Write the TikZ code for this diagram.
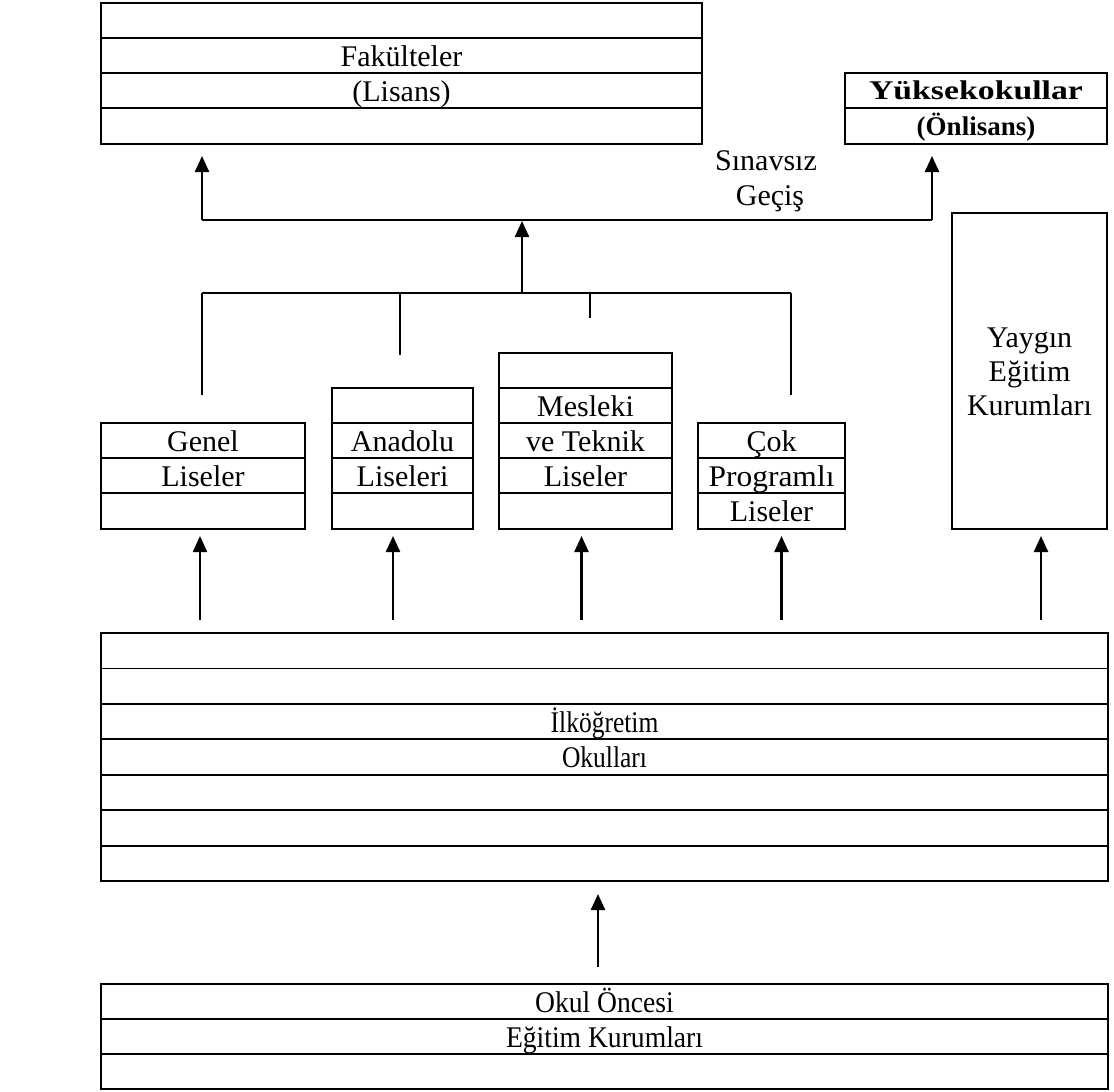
\documentclass[tikz,border=0pt]{standalone}
\usepackage{fontspec}
\usepackage{graphicx}
\setmainfont{Liberation Serif}
\usetikzlibrary{arrows.meta,calc}
\begin{document}
\begin{tikzpicture}[x=1pt,y=-1pt,
  box/.style={draw, line width=2pt, rectangle, inner sep=0pt, outer sep=0pt},
  sep/.style={line width=1.8pt},
  txt/.style={font=\fontsize{30}{34}\selectfont, inner sep=0pt, anchor=base},
  ytxt/.style={font=\fontsize{27}{30}\selectfont\bfseries, inner sep=0pt, anchor=base},
  conn/.style={line width=2.4pt},
  arr/.style={line width=2.4pt, -{Triangle[length=16pt,width=14pt]}}]
\useasboundingbox (0,0) rectangle (1114,1092);

% boxes
\node[box, minimum width=601pt, minimum height=141pt] (fak) at (401.5,73.5) {};
\node[box, minimum width=262pt, minimum height=71pt] (yuk) at (976,108.5) {};
\node[box, minimum width=204pt, minimum height=106pt] (genel) at (203,476) {};
\node[box, minimum width=141pt, minimum height=141pt] (anadolu) at (402.5,458.5) {};
\node[box, minimum width=173pt, minimum height=176pt] (mesleki) at (585.5,441) {};
\node[box, minimum width=147pt, minimum height=106pt] (cok) at (771.5,476) {};
\node[box, minimum width=155pt, minimum height=316pt] (yaygin) at (1029.5,371) {};
\node[box, minimum width=1007pt, minimum height=248pt] (ilk) at (604.5,757) {};
\node[box, minimum width=1007pt, minimum height=105pt] (okul) at (604.5,1036.5) {};

% row dividers
\foreach \y in {38,73,108} \draw[sep] (101,\y) -- (702,\y);
\draw[sep] (845,108) -- (1107,108);
\foreach \y in {458,493} \draw[sep] (101,\y) -- (305,\y);
\foreach \y in {423,458,493} \draw[sep] (332,\y) -- (473,\y);
\foreach \y in {388,423,458,493} \draw[sep] (499,\y) -- (672,\y);
\foreach \y in {458,493} \draw[sep] (698,\y) -- (845,\y);
\foreach \y in {668.4,703.9,739.3,774.7,810.1,845.6} \draw[sep] (101,\y) -- (1108,\y);
\foreach \y in {1019,1054} \draw[sep] (101,\y) -- (1108,\y);

% texts (baselines)
\node[txt] (tfak1) at (401.5,66) {Fakülteler};
\node[txt] (tfak2) at (401.5,101) {(Lisans)};
\node[ytxt] (tyuk1) at (976,99) {\scalebox{1.25}[1]{Yüksekokullar}};
\node[ytxt] (tyuk2) at (976,135) {(Önlisans)};
\node[txt] (tsin1) at (766,170) {Sınavsız};
\node[txt] (tsin2) at (770,205) {Geçiş};
\node[txt] (tgen1) at (203,451) {Genel};
\node[txt] (tgen2) at (203,486) {Liseler};
\node[txt] (tana1) at (402.5,451) {Anadolu};
\node[txt] (tana2) at (402.5,486) {Liseleri};
\node[txt] (tmes1) at (585.5,416) {Mesleki};
\node[txt] (tmes2) at (585.5,451) {ve Teknik};
\node[txt] (tmes3) at (585.5,486) {Liseler};
\node[txt] (tcok1) at (771.5,451) {Çok};
\node[txt] (tcok2) at (771.5,486) {\scalebox{1.05}[1]{Programlı}};
\node[txt] (tcok3) at (771.5,521) {Liseler};
\node[txt] (tyay1) at (1029.5,347) {Yaygın};
\node[txt] (tyay2) at (1029.5,381) {Eğitim};
\node[txt] (tyay3) at (1029.5,415) {Kurumları};
\node[txt] (tilk1) at (604.5,732) {\scalebox{0.85}[1]{İlköğretim}};
\node[txt] (tilk2) at (604.5,767) {\scalebox{0.85}[1]{Okulları}};
\node[txt] (tokul1) at (604.5,1012) {\scalebox{0.92}[1]{Okul Öncesi}};
\node[txt] (tokul2) at (604.5,1047) {\scalebox{0.92}[1]{Eğitim Kurumları}};

% upper connectors
\coordinate (h1L) at (202,220);
\coordinate (h1M) at (522,220);
\coordinate (h1R) at (932,220);
\coordinate (h2L) at (202,293);
\coordinate (h2M) at (522,293);
\coordinate (h2R) at (791,293);
\draw[conn] (h1L) -- (h1R);
\draw[arr] (h1L) -- ($(fak.south -| h1L)+(0,12)$);
\draw[arr] (h1R) -- ($(yuk.south -| h1R)+(0,12)$);
\draw[conn] (h2L) -- (h2R);
\draw[arr] (h2M) -- ($(h1M)+(0,1)$);
\draw[conn] (h2L) -- ($(genel.north -| h2L)+(0,-28)$);
\draw[conn] ($(anadolu.north)+(-2.5,-95)$) -- ($(anadolu.north)+(-2.5,-33)$);
\draw[conn] ($(mesleki.north)+(4.5,-60)$) -- ($(mesleki.north)+(4.5,-35)$);
\draw[conn] (h2R) -- ($(cok.north -| h2R)+(0,-28)$);

% lower connectors
\draw[arr] ($(genel.south)+(-3,91)$) -- ($(genel.south)+(-3,7)$);
\draw[arr] ($(anadolu.south)+(-9.5,91)$) -- ($(anadolu.south)+(-9.5,7)$);
\draw[arr] ($(mesleki.south)+(-4,91)$) -- ($(mesleki.south)+(-4,7)$);
\draw[arr] ($(cok.south)+(10,91)$) -- ($(cok.south)+(10,7)$);
\draw[arr] ($(yaygin.south)+(11.5,91)$) -- ($(yaygin.south)+(11.5,7)$);
\draw[arr] ($(okul.north)+(-6.5,-17)$) -- ($(ilk.south)+(-6.5,13)$);
\end{tikzpicture}
\end{document}
